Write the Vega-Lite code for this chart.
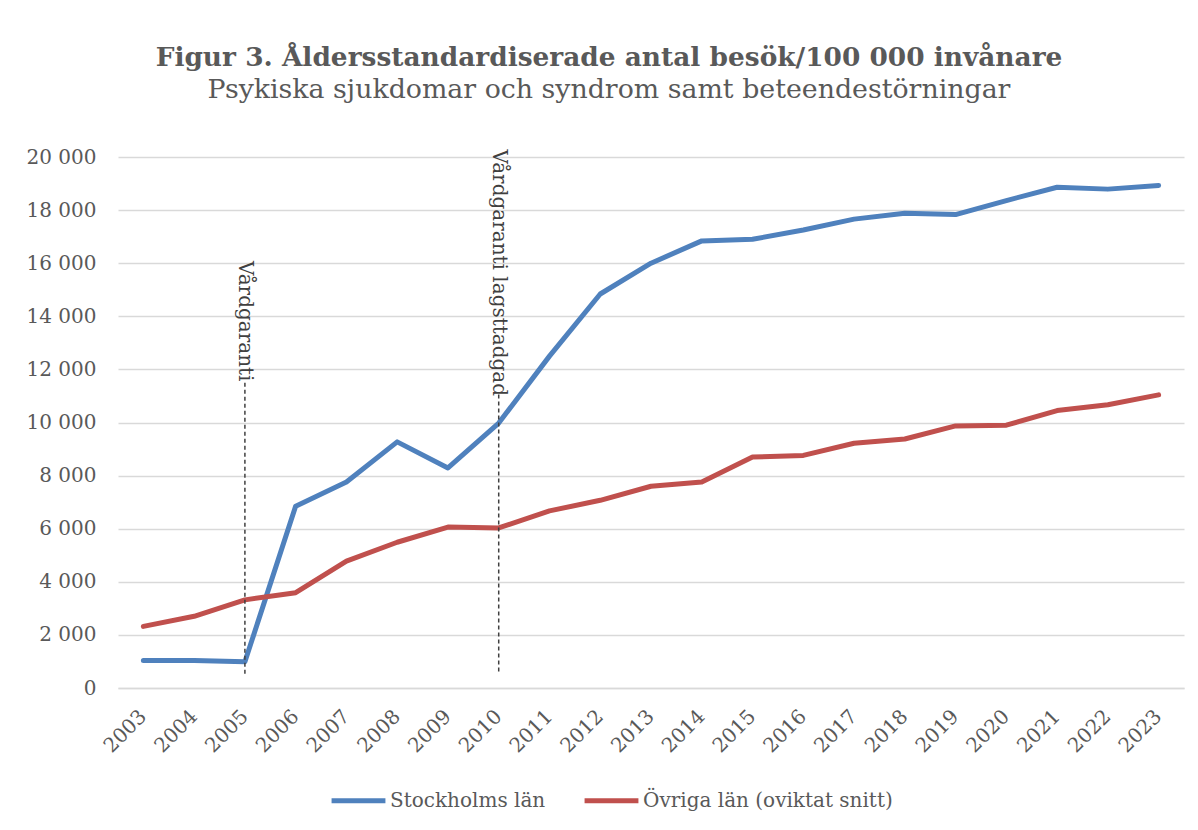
{
  "$schema": "https://vega.github.io/schema/vega-lite/v6.json",
  "autosize": {"type": "none"},
  "width": 1066,
  "height": 531,
  "padding": {"left": 118, "top": 157, "right": 14, "bottom": 142},
  "background": "white",
  "title": {
    "text": "Figur 3. Åldersstandardiserade antal besök/100 000 invånare",
    "subtitle": "Psykiska sjukdomar och syndrom samt beteendestörningar",
    "anchor": "middle",
    "frame": "group",
    "dx": -42,
    "font": "DejaVu Serif",
    "fontSize": 26.4,
    "fontWeight": "bold",
    "color": "#595959",
    "subtitleFont": "DejaVu Serif",
    "subtitleFontSize": 26.8,
    "subtitleColor": "#595959",
    "subtitlePadding": 6,
    "offset": 43
  },
  "datasets": {
    "series": [
      {"year": 2003, "series": "Stockholms län", "value": 1040},
      {"year": 2004, "series": "Stockholms län", "value": 1040},
      {"year": 2005, "series": "Stockholms län", "value": 990},
      {"year": 2006, "series": "Stockholms län", "value": 6850},
      {"year": 2007, "series": "Stockholms län", "value": 7760},
      {"year": 2008, "series": "Stockholms län", "value": 9270},
      {"year": 2009, "series": "Stockholms län", "value": 8290},
      {"year": 2010, "series": "Stockholms län", "value": 9980},
      {"year": 2011, "series": "Stockholms län", "value": 12500},
      {"year": 2012, "series": "Stockholms län", "value": 14840},
      {"year": 2013, "series": "Stockholms län", "value": 16000},
      {"year": 2014, "series": "Stockholms län", "value": 16840},
      {"year": 2015, "series": "Stockholms län", "value": 16900},
      {"year": 2016, "series": "Stockholms län", "value": 17250},
      {"year": 2017, "series": "Stockholms län", "value": 17660},
      {"year": 2018, "series": "Stockholms län", "value": 17880},
      {"year": 2019, "series": "Stockholms län", "value": 17830},
      {"year": 2020, "series": "Stockholms län", "value": 18360},
      {"year": 2021, "series": "Stockholms län", "value": 18860},
      {"year": 2022, "series": "Stockholms län", "value": 18790},
      {"year": 2023, "series": "Stockholms län", "value": 18930},
      {"year": 2003, "series": "Övriga län (oviktat snitt)", "value": 2320},
      {"year": 2004, "series": "Övriga län (oviktat snitt)", "value": 2700},
      {"year": 2005, "series": "Övriga län (oviktat snitt)", "value": 3320},
      {"year": 2006, "series": "Övriga län (oviktat snitt)", "value": 3590},
      {"year": 2007, "series": "Övriga län (oviktat snitt)", "value": 4780},
      {"year": 2008, "series": "Övriga län (oviktat snitt)", "value": 5490},
      {"year": 2009, "series": "Övriga län (oviktat snitt)", "value": 6060},
      {"year": 2010, "series": "Övriga län (oviktat snitt)", "value": 6030},
      {"year": 2011, "series": "Övriga län (oviktat snitt)", "value": 6670},
      {"year": 2012, "series": "Övriga län (oviktat snitt)", "value": 7070},
      {"year": 2013, "series": "Övriga län (oviktat snitt)", "value": 7600},
      {"year": 2014, "series": "Övriga län (oviktat snitt)", "value": 7760},
      {"year": 2015, "series": "Övriga län (oviktat snitt)", "value": 8700},
      {"year": 2016, "series": "Övriga län (oviktat snitt)", "value": 8760},
      {"year": 2017, "series": "Övriga län (oviktat snitt)", "value": 9220},
      {"year": 2018, "series": "Övriga län (oviktat snitt)", "value": 9380},
      {"year": 2019, "series": "Övriga län (oviktat snitt)", "value": 9870},
      {"year": 2020, "series": "Övriga län (oviktat snitt)", "value": 9900},
      {"year": 2021, "series": "Övriga län (oviktat snitt)", "value": 10450},
      {"year": 2022, "series": "Övriga län (oviktat snitt)", "value": 10670},
      {"year": 2023, "series": "Övriga län (oviktat snitt)", "value": 11040}
    ],
    "notes": [
      {"year": 2005, "label": "Vårdgaranti", "textY": 16080, "ruleTop": 11500, "ruleBottom": 420},
      {"year": 2010, "label": "Vårdgaranti lagsttadgad", "textY": 20280, "ruleTop": 11050, "ruleBottom": 580}
    ]
  },
  "layer": [
    {
      "data": {"name": "series"},
      "mark": {"type": "line", "strokeWidth": 5, "strokeCap": "round", "strokeJoin": "round"},
      "encoding": {
        "x": {
          "field": "year",
          "type": "ordinal",
          "axis": {
            "title": null,
            "labelAngle": -45,
            "labelAlign": "right",
            "labelBaseline": "middle",
            "labelPadding": 25,
            "ticks": false,
            "grid": false,
            "domain": true,
            "domainColor": "#d9d9d9",
            "domainWidth": 1.5,
            "labelFont": "DejaVu Serif",
            "labelFontSize": 20,
            "labelColor": "#595959"
          }
        },
        "y": {
          "field": "value",
          "type": "quantitative",
          "scale": {"domain": [0, 20000], "nice": false},
          "axis": {
            "title": null,
            "values": [0, 2000, 4000, 6000, 8000, 10000, 12000, 14000, 16000, 18000, 20000],
            "labelExpr": "replace(format(datum.value, ',d'), ',', ' ')",
            "grid": true,
            "gridColor": "#d9d9d9",
            "gridWidth": 1.5,
            "domain": false,
            "ticks": false,
            "labelPadding": 22,
            "labelFont": "DejaVu Serif",
            "labelFontSize": 20,
            "labelColor": "#595959"
          }
        },
        "color": {
          "field": "series",
          "type": "nominal",
          "scale": {
            "domain": ["Stockholms län", "Övriga län (oviktat snitt)"],
            "range": ["#4F81BD", "#C0504D"]
          },
          "legend": {
            "title": null,
            "orient": "none",
            "legendX": 211,
            "legendY": 614,
            "direction": "horizontal",
            "symbolType": "stroke",
            "symbolSize": 2900,
            "symbolStrokeWidth": 5,
            "labelOffset": 2,
            "labelLimit": 400,
            "columnPadding": 28,
            "labelFont": "DejaVu Serif",
            "labelFontSize": 20,
            "labelColor": "#595959"
          }
        }
      }
    },
    {
      "data": {"name": "notes"},
      "mark": {"type": "rule", "color": "#404040", "strokeWidth": 1.5, "strokeDash": [4, 3]},
      "encoding": {
        "x": {"field": "year", "type": "ordinal"},
        "y": {"field": "ruleTop", "type": "quantitative"},
        "y2": {"field": "ruleBottom"}
      }
    },
    {
      "data": {"name": "notes"},
      "mark": {"type": "text", "angle": 90, "align": "left", "baseline": "middle", "font": "DejaVu Serif", "fontSize": 20, "color": "#404040"},
      "encoding": {
        "x": {"field": "year", "type": "ordinal"},
        "y": {"field": "textY", "type": "quantitative"},
        "text": {"field": "label"}
      }
    }
  ],
  "config": {
    "view": {"stroke": null},
    "font": "DejaVu Serif"
  }
}
